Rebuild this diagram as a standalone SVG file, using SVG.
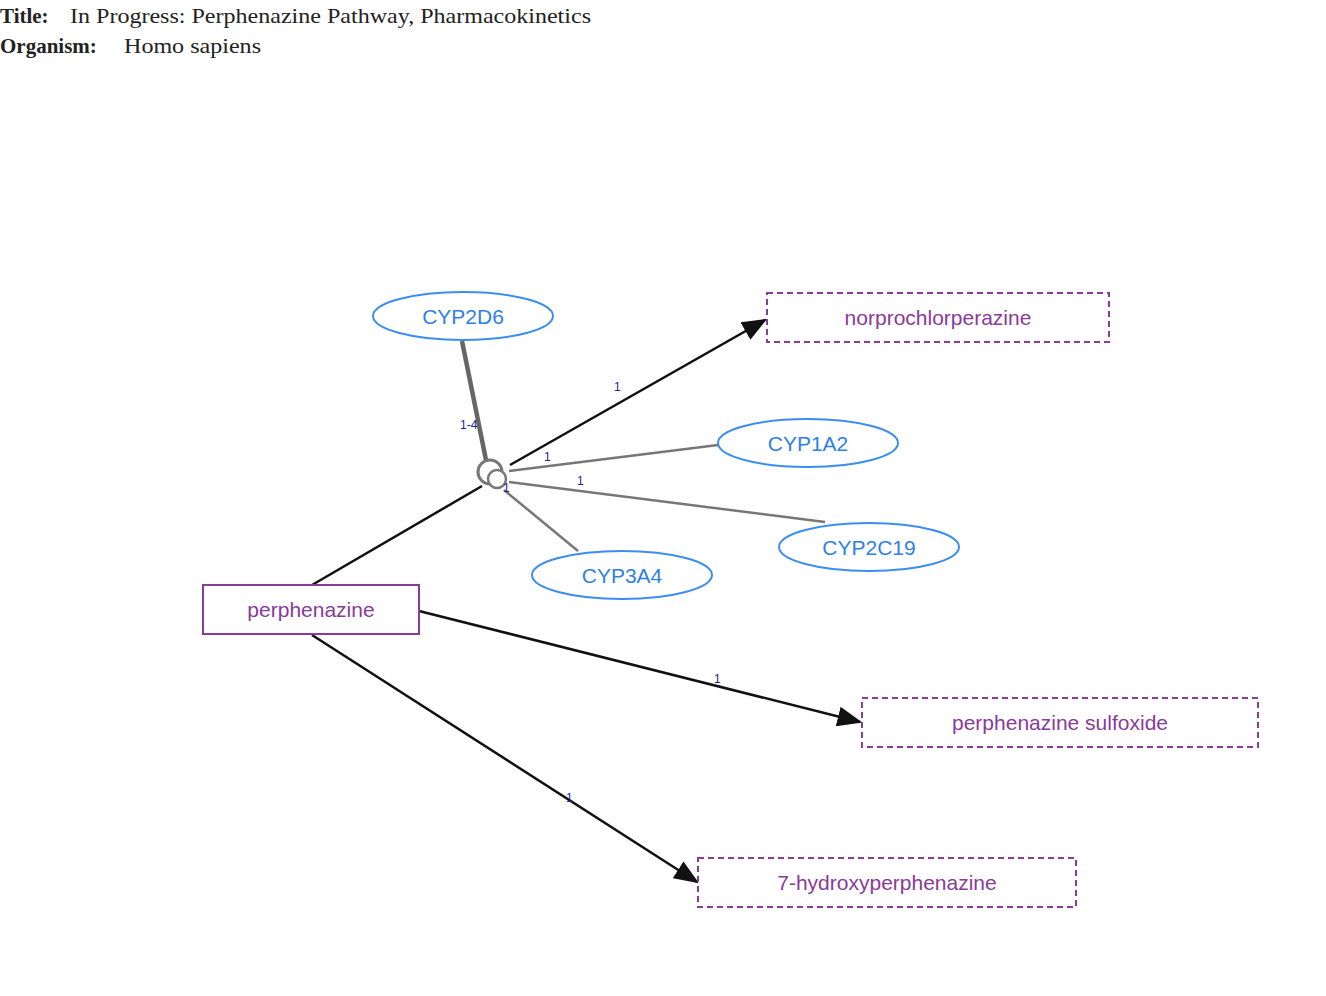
<svg xmlns="http://www.w3.org/2000/svg" width="1326" height="996" viewBox="0 0 1326 996">
<style>
.hdr{font-family:"Liberation Serif",serif;font-size:21px;fill:#222}
.gene ellipse{fill:#fff;stroke:#3b8ef0;stroke-width:2}
.gene text{font-family:"Liberation Sans",sans-serif;font-size:21px;fill:#2f7fe8;text-anchor:middle}
.chem rect{fill:#fff;stroke:#8a3a9a;stroke-width:2}
.chem.d rect{stroke-dasharray:6 4}
.chem text{font-family:"Liberation Sans",sans-serif;font-size:21px;fill:#8a3a9a;text-anchor:middle}
.lbl{font-family:"Liberation Sans",sans-serif;font-size:12px;fill:#22229a}
.k{stroke:#111;stroke-width:2.5;fill:none}
.g{stroke:#777;stroke-width:2.5;fill:none}
.g.w{stroke-width:4.5;stroke:#666}
</style>
<defs><marker id="a" markerWidth="10" markerHeight="8" refX="9" refY="4" orient="auto" markerUnits="strokeWidth"><path d="M0,0L10,4L0,8z" fill="#111"/></marker></defs>
<text class="hdr" x="0" y="23" font-weight="bold">Title:</text>
<text class="hdr" x="70" y="23" textLength="521" lengthAdjust="spacingAndGlyphs">In Progress: Perphenazine Pathway, Pharmacokinetics</text>
<text class="hdr" x="0" y="53" font-weight="bold">Organism:</text>
<text class="hdr" x="124" y="53" textLength="137" lengthAdjust="spacingAndGlyphs">Homo sapiens</text>
<g id="connectors">
<line class="k" x1="312" y1="585" x2="482" y2="486"/>
<line class="k" x1="510" y1="465" x2="765" y2="320" marker-end="url(#a)"/>
<line class="g w" x1="462" y1="341" x2="486" y2="460"/>
<line class="g" x1="509" y1="471" x2="718" y2="445"/>
<line class="g" x1="509" y1="482" x2="825" y2="522"/>
<line class="g" x1="504" y1="490" x2="578" y2="551"/>
<line class="k" x1="419" y1="611" x2="860" y2="722" marker-end="url(#a)"/>
<line class="k" x1="312" y1="635" x2="697" y2="882" marker-end="url(#a)"/>
<circle cx="490" cy="472" r="12" fill="none" stroke="#777" stroke-width="3"/>
<circle cx="497" cy="479" r="9" fill="#fff" stroke="#777" stroke-width="2.5"/>
<text class="lbl" x="614" y="391">1</text>
<text class="lbl" x="460" y="429">1-4</text>
<text class="lbl" x="544" y="461">1</text>
<text class="lbl" x="577" y="485">1</text>
<text class="lbl" x="503" y="492">1</text>
<text class="lbl" x="714" y="683">1</text>
<text class="lbl" x="566" y="802">1</text>
</g>
<g id="CYP2D6" class="gene"><ellipse cx="463" cy="316" rx="90" ry="24"/><text x="463" y="324">CYP2D6</text></g>
<g id="CYP1A2" class="gene"><ellipse cx="808" cy="443" rx="90" ry="24"/><text x="808" y="451">CYP1A2</text></g>
<g id="CYP2C19" class="gene"><ellipse cx="869" cy="547" rx="90" ry="24"/><text x="869" y="555">CYP2C19</text></g>
<g id="CYP3A4" class="gene"><ellipse cx="622" cy="575" rx="90" ry="24"/><text x="622" y="583">CYP3A4</text></g>
<g id="perphenazine" class="chem"><rect x="203" y="585" width="216" height="49"/><text x="311" y="617">perphenazine</text></g>
<g id="norprochlorperazine" class="chem d"><rect x="767" y="293" width="342" height="49"/><text x="938" y="325">norprochlorperazine</text></g>
<g id="sulfoxide" class="chem d"><rect x="862" y="698" width="396" height="49"/><text x="1060" y="730">perphenazine sulfoxide</text></g>
<g id="hydroxy" class="chem d"><rect x="698" y="858" width="378" height="49"/><text x="887" y="890">7-hydroxyperphenazine</text></g>
</svg>
